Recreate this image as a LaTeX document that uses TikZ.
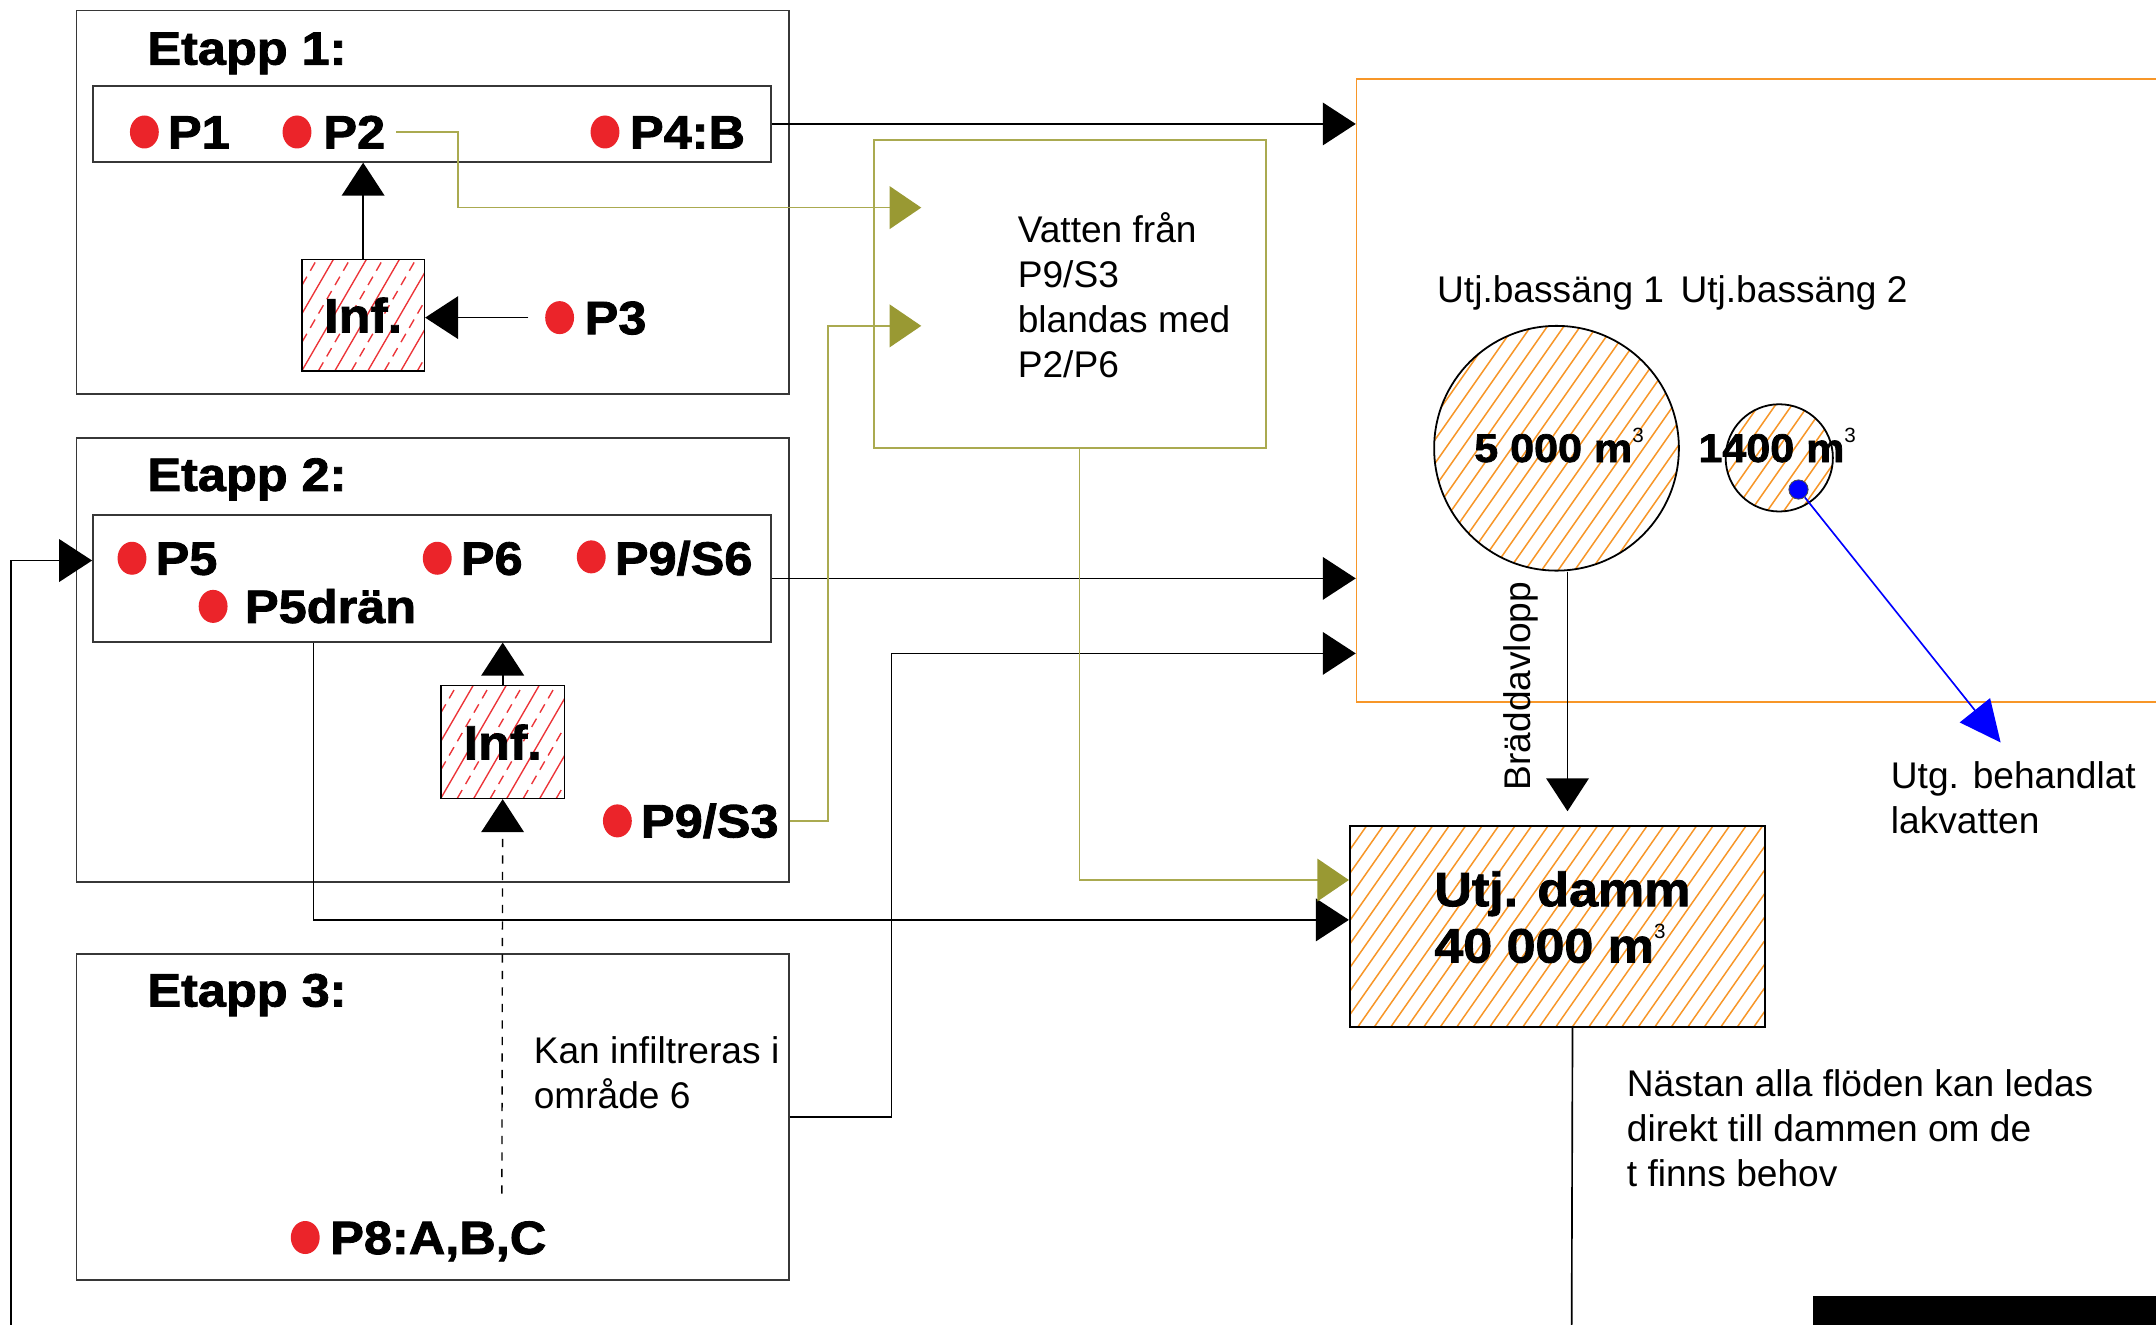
\documentclass[tikz,border=0pt]{standalone}
\usepackage{fontspec}
\setmainfont{Liberation Sans}
\newfontfamily\labfont{Liberation Sans Bold}[FakeStretch=1.08,FakeBold=1.8]
\usetikzlibrary{arrows.meta,calc,shapes.geometric}

\definecolor{dotred}{RGB}{235,36,42}
\definecolor{hatchred}{RGB}{236,52,56}
\definecolor{olivec}{RGB}{153,153,51}
\definecolor{olivel}{RGB}{170,170,80}
\definecolor{orangec}{RGB}{247,150,40}
\definecolor{framec}{RGB}{55,55,55}

\newcommand\cubed{\raisebox{0.5em}{\normalfont\fontsize{15}{15}\selectfont 3}}

\begin{document}
\begin{tikzpicture}[x=1pt,y=-1pt,
  frame/.style={draw=framec, line width=1.3pt, inner sep=0pt, anchor=north west},
  infbox/.style={draw=black, line width=1.2pt, inner sep=0pt, anchor=north west,
    font=\labfont\fontsize{35}{35}\selectfont,
    path picture={
      \foreach \i in {0,...,10} {
        \draw[hatchred, line width=1pt]
          ($(path picture bounding box.south west)+(\i*24-120,0)$) -- ++(110,-190);
        \draw[hatchred, line width=1pt, dash pattern=on 7pt off 5pt]
          ($(path picture bounding box.south west)+(\i*24-108,0)$) -- ++(110,-190);
      }}},
  hatch/.style={path picture={
      \foreach \i in {0,...,42} {
        \draw[orangec, line width=1.1pt]
          ($(path picture bounding box.south west)+(\i*12-150,0)$) -- ++(140,-200);
      }}},
  pdot/.style={ellipse, fill=dotred, inner sep=0pt, minimum width=21pt, minimum height=24pt},
  plab/.style={font=\labfont\fontsize{34}{34}\selectfont, inner sep=0pt, anchor=base west},
  note/.style={font=\fontsize{27}{32.8}\selectfont, inner sep=0pt, anchor=base west, align=left},
  arr/.style={draw=black, line width=1.2pt, -{Triangle[length=24pt,width=31pt]}},
  oarr/.style={draw=olivel, line width=1.2pt, -{Triangle[length=23pt,width=31pt,color=olivec]}},
  barr/.style={draw=blue, line width=1.2pt, -{Triangle[length=30pt,width=28pt,color=blue]}},
  conn/.style={draw=black, line width=1.2pt}
]
\useasboundingbox (0,0) rectangle (1568,963);

% stage frames and point rows
\node[frame, minimum width=518pt, minimum height=279pt] (e1) at (55,7) {};
\node[frame, minimum width=493pt, minimum height=55pt] (row1) at (67,62) {};
\node[frame, minimum width=518pt, minimum height=323pt] (e2) at (55,318) {};
\node[frame, minimum width=493pt, minimum height=92pt] (row2) at (67,374) {};
\node[frame, minimum width=518pt, minimum height=237pt] (e3) at (55,693) {};

\node[plab] (t1) at (107,47) {Etapp 1:};
\node[plab] (t2) at (107,357) {Etapp 2:};
\node[plab] (t3) at (107,732) {Etapp 3:};

% infiltration areas
\node[infbox, minimum width=89pt, minimum height=81pt] (inf1) at (219,188) {Inf.};
\node[infbox, minimum width=90pt, minimum height=82pt] (inf2) at (320,498) {Inf.};

% measuring points
\node[pdot] (p1d) at (105,96) {};   \node[plab] (p1) at (122,108) {P1};
\node[pdot] (p2d) at (216,96) {};   \node[plab] (p2) at (235,108) {P2};
\node[pdot] (p4d) at (440,96) {};   \node[plab] (p4) at (458,108) {P4:B};
\node[pdot] (p3d) at (407,231) {};  \node[plab] (p3) at (425,243) {P3};
\node[pdot] (p5d) at (96,406) {};   \node[plab] (p5) at (113,418) {P5};
\node[pdot] (p6d) at (318,406) {};  \node[plab] (p6) at (335,418) {P6};
\node[pdot] (p96d) at (430,405) {}; \node[plab] (p96) at (447,418) {P9/S6};
\node[pdot] (p5dd) at (155,441) {}; \node[plab] (p5dr) at (178,453) {P5drän};
\node[pdot] (p93d) at (449,597) {}; \node[plab] (p93) at (466,609) {P9/S3};
\node[pdot] (p8d) at (222,900) {};  \node[plab] (p8) at (240,912) {P8:A,B,C};

% multi-line notes are placed by the baseline of their last line
\node[note] (kan) at (388,806) {Kan infiltreras i\\område 6};

% mixing box
\node[draw=olivel, line width=1.2pt, inner sep=0pt, anchor=north west,
      minimum width=285pt, minimum height=224pt] (mix) at (635,101) {};
\node[note] (mixtxt) at (740,274.5) {Vatten från\\P9/S3\\blandas med\\P2/P6};

% treatment area
\node[draw=orangec, line width=1.2pt, inner sep=0pt, anchor=north west,
      minimum width=640pt, minimum height=453pt] (obox) at (986,57) {};
\node[note] (b1lab) at (1045,220) {Utj.bassäng 1};
\node[note] (b2lab) at (1222,220) {Utj.bassäng 2};
\node[circle, draw=black, line width=1.3pt, hatch, minimum size=178pt, inner sep=0pt] (bigc) at (1132,326) {};
\node[circle, draw=black, line width=1.3pt, hatch, minimum size=78pt, inner sep=0pt] (smallc) at (1294,333) {};
\node[plab, font=\labfont\fontsize{29}{29}\selectfont] (v1) at (1072,336) {5 000 m\cubed};
\node[plab, font=\labfont\fontsize{29}{29}\selectfont] (v2) at (1235,336) {1400 m\cubed};
\node[circle, fill=blue, draw=black!70, line width=0.6pt, minimum size=14pt, inner sep=0pt] (bdot) at (1308,356) {};
\node[note, rotate=90] (brd) at (1113,575) {Bräddavlopp};
\node[note] (utg) at (1375,606) {Utg. behandlat\\lakvatten};

% equalisation pond
\node[draw=black, line width=1.3pt, hatch, inner sep=0pt, anchor=north west,
      minimum width=302pt, minimum height=146pt] (damm) at (981,600) {};
\node[plab, font=\labfont\fontsize{35}{41}\selectfont, align=left] (dammtxt) at (1043,700) {Utj. damm\\40 000 m\cubed};
\node[note] (nast) at (1183,863) {Nästan alla flöden kan ledas\\direkt till dammen om de\\t finns behov};

\node[fill=black, inner sep=0pt, anchor=north west, minimum width=270pt, minimum height=30pt] (bar) at (1318,942) {};

% free ends and entry points
\coordinate (fbstart) at (8,970);
\coordinate (dammout) at (1143,970);
\coordinate (p8top) at (365,868);
\coordinate (mixin1) at (670,151);
\coordinate (mixin2) at (670,237);
\coordinate (bluetip) at (1455,540);
\coordinate (in3) at ([yshift=36pt]obox.south west);
\coordinate (dblack) at ([yshift=-69pt]damm.north west);
\coordinate (dolive) at ([yshift=-40pt]damm.north west);

% black flows
\draw[arr] (inf1.north) -- (inf1.north |- row1.south);
\draw[arr] ([xshift=-12pt]p3d.west) -- (p3d.west -| inf1.east);
\draw[arr] (inf2.north) -- (inf2.north |- row2.south);
\draw[arr, dash pattern=on 6pt off 6pt, line width=1pt] (p8top) -- (inf2.south);
\draw[arr] (row1.east) -- (row1.east -| obox.west);
\draw[arr] (row2.east) -- (row2.east -| obox.west);
\draw[arr] (e3.east) -- ++(74,0) |- (in3);
\draw[arr] ([xshift=161pt]row2.south west) |- (dblack);
\draw[arr] (fbstart) |- ([yshift=13pt]row2.west);
\draw[arr, shorten >=10pt] ([xshift=8pt]bigc.south) -- ([xshift=8pt]bigc.south |- damm.north);
\draw[conn] ([xshift=11pt]damm.south) -- (dammout);

% olive flows through the mixing box
\draw[oarr] ([xshift=8pt]p2.east) -- ++(45,0) |- (mixin1);
\draw[oarr] (e2.east |- p93.east) -- ++(28,0) |- (mixin2);
\draw[oarr] ([xshift=150pt]mix.south west) |- (dolive);

% treated leachate outlet
\draw[barr] (bdot) -- (bluetip);
\end{tikzpicture}
\end{document}
